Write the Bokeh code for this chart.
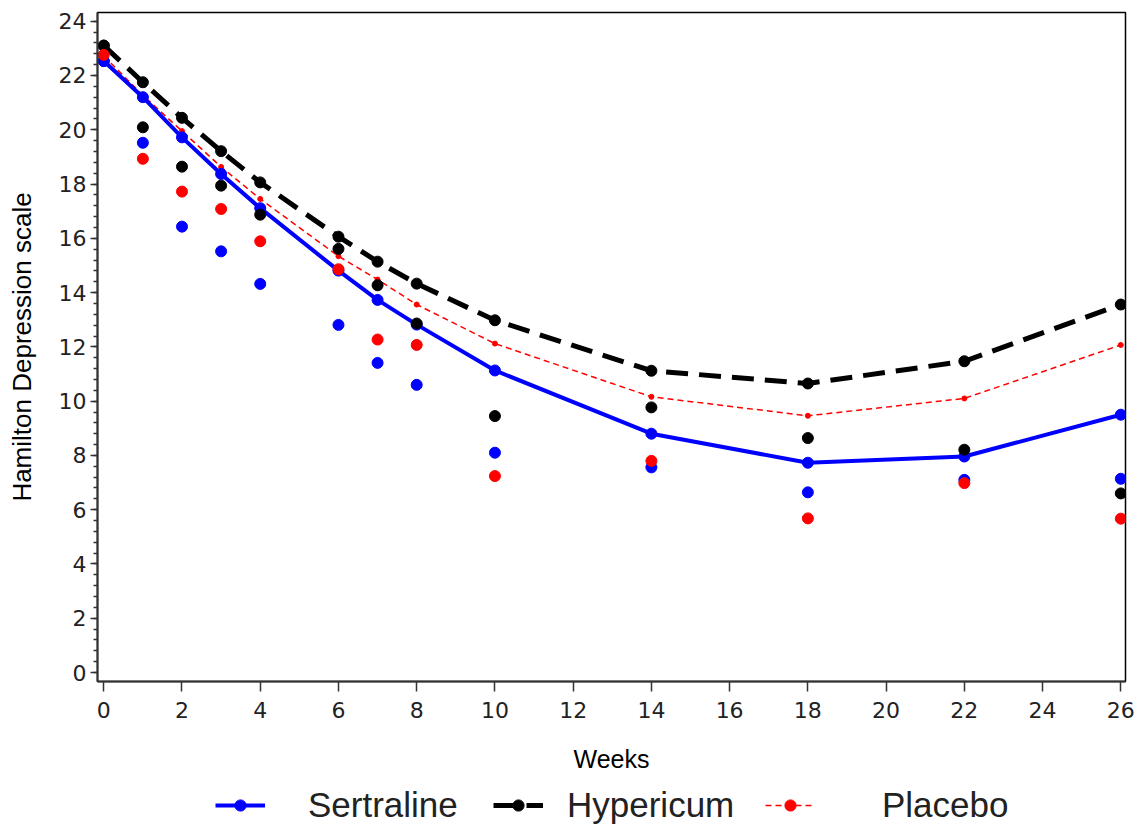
from bokeh.plotting import figure
from bokeh.layouts import column
from bokeh.models import Range1d, SingleIntervalTicker, Legend, LegendItem, ColumnDataSource
from bokeh.embed import file_html
from bokeh.resources import INLINE

# ---- data ----
weeks = [0, 1, 2, 3, 4, 6, 7, 8, 10, 14, 18, 22, 26]
sert_fit = [22.53, 21.20, 19.72, 18.37, 17.11, 14.81, 13.73, 12.82, 11.13, 8.80, 7.73, 7.96, 9.50]
hyp_fit = [23.10, 21.75, 20.44, 19.21, 18.06, 16.06, 15.14, 14.33, 12.98, 11.12, 10.65, 11.47, 13.56]
plac_fit = [22.72, 21.27, 19.95, 18.63, 17.45, 15.34, 14.48, 13.56, 12.12, 10.16, 9.46, 10.10, 12.07]
sert_obs = [22.53, 19.52, 16.43, 15.52, 14.32, 12.81, 11.41, 10.60, 8.10, 7.56, 6.64, 7.10, 7.14]
hyp_obs = [23.10, 20.09, 18.64, 17.94, 16.87, 15.61, 14.27, 12.86, 9.45, 9.77, 8.64, 8.21, 6.60]
plac_obs = [22.76, 18.93, 17.72, 17.08, 15.89, 14.86, 12.27, 12.07, 7.24, 7.80, 5.68, 6.98, 5.67]
series_names = ["Sertraline", "Hypericum", "Placebo"]
x_label = "Weeks"
y_label = "Hamilton Depression scale"

src = ColumnDataSource(dict(weeks=weeks, sert_fit=sert_fit, hyp_fit=hyp_fit, plac_fit=plac_fit,
                            sert_obs=sert_obs, hyp_obs=hyp_obs, plac_obs=plac_obs))

MAIN_H = 780
LEG_H = 46
FRAME_LEFT = 97

p = figure(width=1147, height=MAIN_H, output_backend="svg", toolbar_location=None,
           x_range=Range1d(-0.16, 26.12), y_range=Range1d(-0.33, 24.32),
           min_border_left=FRAME_LEFT, min_border_right=22, min_border_top=12,
           min_border_bottom=MAIN_H - 681)
p.xgrid.visible = False
p.ygrid.visible = False
p.outline_line_color = "black"
p.outline_line_width = 1.5
p.background_fill_color = "white"
p.border_fill_color = "white"

# axes
p.xaxis.ticker = SingleIntervalTicker(interval=2, num_minor_ticks=0)
p.yaxis.ticker = SingleIntervalTicker(interval=2, num_minor_ticks=5)
for ax in (p.xaxis[0], p.yaxis[0]):
    ax.axis_line_color = "#333333"
    ax.axis_line_width = 2
    ax.major_tick_line_color = "#333333"
    ax.minor_tick_line_color = "#333333"
    ax.major_tick_line_width = 1.5
    ax.minor_tick_line_width = 1.5
    ax.major_tick_in = 0
    ax.minor_tick_in = 0
    ax.major_label_text_font = "DejaVu Sans"
    ax.major_label_text_font_size = "22px"
    ax.major_label_text_color = "#222222"
    ax.axis_label_text_font = "Liberation Sans"
    ax.axis_label_text_font_size = "25px"
    ax.axis_label_text_font_style = "normal"
    ax.axis_label_text_color = "black"
p.yaxis.axis_label_text_font_size = "26px"
p.xaxis.major_tick_out = 10
p.xaxis.minor_tick_out = 0
p.xaxis.major_label_standoff = 10
p.xaxis.axis_label = x_label
p.xaxis.axis_label_standoff = 24
p.yaxis.major_tick_out = 7
p.yaxis.minor_tick_out = 4
p.yaxis.major_label_standoff = 4
p.yaxis.axis_label = y_label
p.yaxis.axis_label_standoff = 19

# fitted curves
line_styles = {
    "plac": dict(line_color="red", line_width=1.5, line_dash="6 4"),
    "hyp": dict(line_color="black", line_width=5, line_dash="22 11"),
    "sert": dict(line_color="blue", line_width=4),
}
p.line("weeks", "plac_fit", source=src, **line_styles["plac"])
p.scatter("weeks", "plac_fit", source=src, size=5, color="red")
p.line("weeks", "hyp_fit", source=src, **line_styles["hyp"])
p.scatter("weeks", "hyp_fit", source=src, size=11, color="black")
p.line("weeks", "sert_fit", source=src, **line_styles["sert"])
p.scatter("weeks", "sert_fit", source=src, size=11, color="blue")

# observed means
p.scatter("weeks", "sert_obs", source=src, size=11, color="blue")
p.scatter("weeks", "hyp_obs", source=src, size=11, color="black")
p.scatter("weeks", "plac_obs", source=src, size=11, color="red")

# ---- legend strip below the chart (its own renderers lie outside its tiny ranges) ----
q = figure(width=1147, height=LEG_H, output_backend="svg", toolbar_location=None,
           x_axis_type=None, y_axis_type=None, min_border=0,
           x_range=Range1d(0, 1), y_range=Range1d(0, 1))
q.outline_line_color = None
q.background_fill_color = "white"
q.border_fill_color = "white"
q.xgrid.visible = False
q.ygrid.visible = False
leg_specs = [
    (series_names[0], "sert", "sert_fit", "blue", 10, 215, 43),
    (series_names[1], "hyp", "hyp_fit", "black", 10, 493, 24),
    (series_names[2], "plac", "plac_fit", "red", 9, 765, 67),
]
for name, key, col_y, col, msize, xpix, standoff in leg_specs:
    rl = q.line("weeks", col_y, source=src, **line_styles[key])
    rs = q.scatter("weeks", col_y, source=src, size=msize, color=col)
    lg = Legend(items=[LegendItem(label=name, renderers=[rl, rs])],
                location=(xpix - FRAME_LEFT, 1),
                orientation="horizontal", padding=0, margin=0, spacing=0,
                glyph_width=50, glyph_height=28, label_standoff=standoff,
                label_text_font="Liberation Sans", label_text_font_size="35px",
                label_text_color="#222222",
                border_line_color=None, background_fill_alpha=0)
    q.add_layout(lg, "center")

layout = column(p, q, spacing=0)
open("out.html", "w").write(file_html(layout, INLINE))
